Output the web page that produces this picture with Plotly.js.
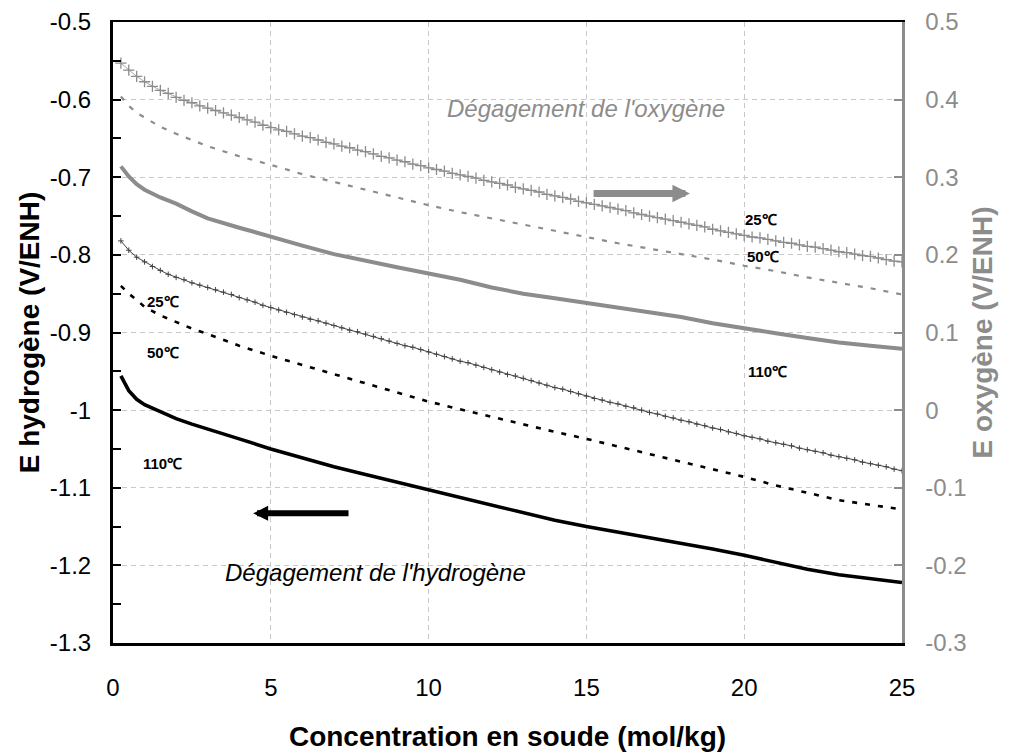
<!DOCTYPE html>
<html>
<head>
<meta charset="utf-8">
<script src="https://cdn.plot.ly/plotly-3.0.1.min.js"></script>
<style>html,body{margin:0;padding:0;background:#fff;}#chart{width:1012px;height:753px;}</style>
</head>
<body>
<div id="chart"></div>
<script>
// Concentration (mol/kg) for the marker series
const xPlus = [0.25,0.5,0.75,1,1.25,1.5,1.75,2,2.25,2.5,2.75,3,3.25,3.5,3.75,4,4.25,4.5,4.75,5,
  5.25,5.5,5.75,6,6.25,6.5,6.75,7,7.25,7.5,7.75,8,8.25,8.5,8.75,9,9.25,9.5,9.75,10,
  10.25,10.5,10.75,11,11.25,11.5,11.75,12,12.25,12.5,12.75,13,13.25,13.5,13.75,14,14.25,14.5,14.75,15,
  15.25,15.5,15.75,16,16.25,16.5,16.75,17,17.25,17.5,17.75,18,18.25,18.5,18.75,19,19.25,19.5,19.75,20,
  20.25,20.5,20.75,21,21.25,21.5,21.75,22,22.25,22.5,22.75,23,23.25,23.5,23.75,24,24.25,24.5,24.75,25];
// Concentration (mol/kg) for the line series
const xLine = [0.25,0.5,0.75,1,1.5,2,2.5,3,4,5,6,7,8,9,10,11,12,13,14,15,16,17,18,19,20,21,22,23,24,25];

// E oxygène (V/ENH), right axis
const o2_25 = [0.447,0.438,0.430,0.423,0.417,0.412,0.408,0.403,0.399,0.396,0.392,0.389,0.386,0.383,0.380,0.377,0.374,0.371,0.367,0.364,
  0.361,0.359,0.356,0.353,0.351,0.348,0.345,0.343,0.340,0.338,0.335,0.333,0.330,0.327,0.325,0.322,0.320,0.317,0.315,0.312,
  0.310,0.308,0.305,0.303,0.301,0.299,0.296,0.294,0.292,0.290,0.287,0.285,0.283,0.281,0.278,0.276,0.274,0.272,0.269,0.267,
  0.265,0.263,0.261,0.259,0.257,0.254,0.252,0.250,0.248,0.246,0.244,0.242,0.240,0.238,0.236,0.233,0.231,0.229,0.227,0.225,
  0.223,0.222,0.220,0.218,0.216,0.215,0.213,0.211,0.210,0.208,0.206,0.204,0.203,0.201,0.199,0.198,0.196,0.194,0.192,0.191];
const o2_50 = [0.404,0.392,0.383,0.377,0.365,0.356,0.348,0.340,0.327,0.316,0.304,0.294,0.284,0.274,0.264,
  0.255,0.247,0.239,0.231,0.223,0.215,0.208,0.201,0.194,0.186,0.179,0.171,0.164,0.157,0.149];
const o2_110 = [0.314,0.301,0.291,0.284,0.274,0.266,0.256,0.247,0.235,0.223,0.212,0.201,0.192,0.184,0.176,
  0.168,0.158,0.150,0.144,0.138,0.132,0.126,0.120,0.112,0.105,0.099,0.093,0.087,0.083,0.079];

// E hydrogène (V/ENH), left axis
const h2_25 = [-0.782,-0.794,-0.803,-0.809,-0.815,-0.820,-0.825,-0.829,-0.832,-0.836,-0.839,-0.842,-0.845,-0.848,-0.851,-0.855,-0.858,-0.861,-0.865,-0.868,
  -0.871,-0.874,-0.877,-0.880,-0.883,-0.885,-0.888,-0.891,-0.894,-0.897,-0.899,-0.902,-0.905,-0.908,-0.911,-0.914,-0.917,-0.919,-0.922,-0.925,
  -0.928,-0.931,-0.934,-0.937,-0.939,-0.942,-0.945,-0.948,-0.951,-0.954,-0.956,-0.959,-0.962,-0.965,-0.968,-0.971,-0.973,-0.976,-0.979,-0.982,
  -0.985,-0.987,-0.990,-0.992,-0.995,-0.997,-1.000,-1.003,-1.005,-1.008,-1.010,-1.013,-1.015,-1.018,-1.020,-1.023,-1.025,-1.028,-1.030,-1.033,
  -1.035,-1.037,-1.040,-1.042,-1.044,-1.046,-1.049,-1.051,-1.053,-1.055,-1.058,-1.060,-1.062,-1.064,-1.067,-1.069,-1.071,-1.073,-1.076,-1.078];
const h2_50 = [-0.840,-0.850,-0.858,-0.867,-0.878,-0.887,-0.895,-0.902,-0.917,-0.930,-0.942,-0.953,-0.965,-0.977,-0.989,
  -0.999,-1.009,-1.018,-1.028,-1.037,-1.047,-1.056,-1.066,-1.076,-1.086,-1.097,-1.107,-1.116,-1.122,-1.128];
const h2_110 = [-0.956,-0.975,-0.986,-0.993,-1.002,-1.011,-1.018,-1.024,-1.037,-1.050,-1.062,-1.073,-1.083,-1.093,-1.102,
  -1.113,-1.123,-1.133,-1.142,-1.150,-1.157,-1.164,-1.171,-1.179,-1.187,-1.196,-1.205,-1.212,-1.217,-1.222];

// Tick labels
const xTickVals = [0,5,10,15,20,25];
const xTickText = ['0','5','10','15','20','25'];
const yTickVals = [-0.5,-0.6,-0.7,-0.8,-0.9,-1.0,-1.1,-1.2,-1.3];
const yTickText = ['-0.5','-0.6','-0.7','-0.8','-0.9','-1','-1.1','-1.2','-1.3'];
const y2TickVals = [0.5,0.4,0.3,0.2,0.1,0,-0.1,-0.2,-0.3];
const y2TickText = ['0.5','0.4','0.3','0.2','0.1','0','-0.1','-0.2','-0.3'];

const GRAY = '#8c8c8c';
const FONT = 'Liberation Sans, Arial, Helvetica, sans-serif';

const traces = [
  {x: xPlus, y: o2_25, yaxis: 'y2', mode: 'lines+markers', name: 'O2 25°C',
   line: {color: GRAY, width: 0.8}, marker: {symbol: 'cross-thin', size: 8, line: {color: GRAY, width: 1.3}}},
  {x: xLine, y: o2_50, yaxis: 'y2', mode: 'lines', name: 'O2 50°C',
   line: {color: GRAY, width: 2.2, dash: '5px,8px'}},
  {x: xLine, y: o2_110, yaxis: 'y2', mode: 'lines', name: 'O2 110°C',
   line: {color: GRAY, width: 4}},
  {x: xPlus, y: h2_25, mode: 'lines+markers', name: 'H2 25°C',
   line: {color: '#444', width: 1}, marker: {symbol: 'cross-thin', size: 4, line: {color: '#444', width: 1}}},
  {x: xLine, y: h2_50, mode: 'lines', name: 'H2 50°C',
   line: {color: '#000', width: 2.6, dash: '5px,8px'}},
  {x: xLine, y: h2_110, mode: 'lines', name: 'H2 110°C',
   line: {color: '#000', width: 3.6}}
];

function lbl(x, y, text) {
  return {x: x, y: y, xref: 'x', yref: 'y', text: text, showarrow: false,
    font: {family: FONT, size: 15, color: '#000', weight: 'bold'}};
}

const layout = {
  width: 1012, height: 753,
  margin: {l: 113, r: 110, t: 22, b: 110, pad: 0},
  paper_bgcolor: '#fff', plot_bgcolor: '#fff',
  showlegend: false,
  font: {family: FONT, size: 24, color: '#000'},
  xaxis: {
    range: [0, 25], tickmode: 'array', tickvals: xTickVals, ticktext: xTickText,
    showline: true, linecolor: '#000', linewidth: 2.5, mirror: true,
    ticks: '', ticklabelstandoff: 22,
    showgrid: true, gridcolor: '#c8c8c8', gridwidth: 1, griddash: '5px,4px',
    zeroline: false,
    tickfont: {family: FONT, size: 24, color: '#000'},
    title: {text: 'Concentration en soude (mol/kg)', font: {family: FONT, size: 28, color: '#000', weight: 'bold'}, standoff: 26}
  },
  yaxis: {
    range: [-1.3, -0.5], tickmode: 'array', tickvals: yTickVals, ticktext: yTickText,
    showline: true, linecolor: '#000', linewidth: 3,
    ticks: 'inside', ticklen: 8, tickwidth: 2, tickcolor: '#000',
    minor: {dtick: 0.05, ticks: 'inside', ticklen: 8, tickwidth: 2, tickcolor: '#000', showgrid: false},
    ticklabelstandoff: 14,
    showgrid: true, gridcolor: '#c8c8c8', gridwidth: 1, griddash: '5px,4px',
    zeroline: false,
    tickfont: {family: FONT, size: 24, color: '#000'},
    title: {text: 'E hydrogène (V/ENH)', font: {family: FONT, size: 28, color: '#000', weight: 'bold'}, standoff: 3}
  },
  yaxis2: {
    range: [-0.3, 0.5], overlaying: 'y', side: 'right',
    tickmode: 'array', tickvals: y2TickVals, ticktext: y2TickText,
    showline: true, linecolor: GRAY, linewidth: 2.5,
    ticks: 'inside', ticklen: 8, tickwidth: 2, tickcolor: GRAY,
    ticklabelstandoff: 16,
    showgrid: false, zeroline: false,
    tickfont: {family: FONT, size: 24, color: GRAY},
    title: {text: 'E oxygène (V/ENH)', font: {family: FONT, size: 28, color: GRAY, weight: 'bold'}, standoff: 7}
  },
  annotations: [
    {x: 14.99, y: -0.611, xref: 'x', yref: 'y', text: "Dégagement de l'oxygène", showarrow: false,
     font: {family: FONT, size: 24, color: GRAY, style: 'italic'}},
    {x: 8.33, y: -1.209, xref: 'x', yref: 'y', text: "Dégagement de l'hydrogène", showarrow: false,
     font: {family: FONT, size: 24, color: '#000', style: 'italic'}},
    {x: 18.28, y: -0.721, ax: 15.18, ay: -0.721, xref: 'x', yref: 'y', axref: 'x', ayref: 'y',
     text: '', showarrow: true, arrowhead: 2, arrowsize: 0.5, arrowwidth: 7, arrowcolor: GRAY, standoff: 0},
    {x: 4.44, y: -1.133, ax: 7.51, ay: -1.133, xref: 'x', yref: 'y', axref: 'x', ayref: 'y',
     text: '', showarrow: true, arrowhead: 2, arrowsize: 0.5, arrowwidth: 6, arrowcolor: '#000', standoff: 0},
    lbl(20.53, -0.754, '25℃'),
    lbl(20.6, -0.802, '50℃'),
    lbl(20.75, -0.950, '110℃'),
    lbl(1.58, -0.860, '25℃'),
    lbl(1.58, -0.926, '50℃'),
    lbl(1.58, -1.069, '110℃')
  ]
};

Plotly.newPlot('chart', traces, layout, {staticPlot: true, displayModeBar: false});
</script>
</body>
</html>
